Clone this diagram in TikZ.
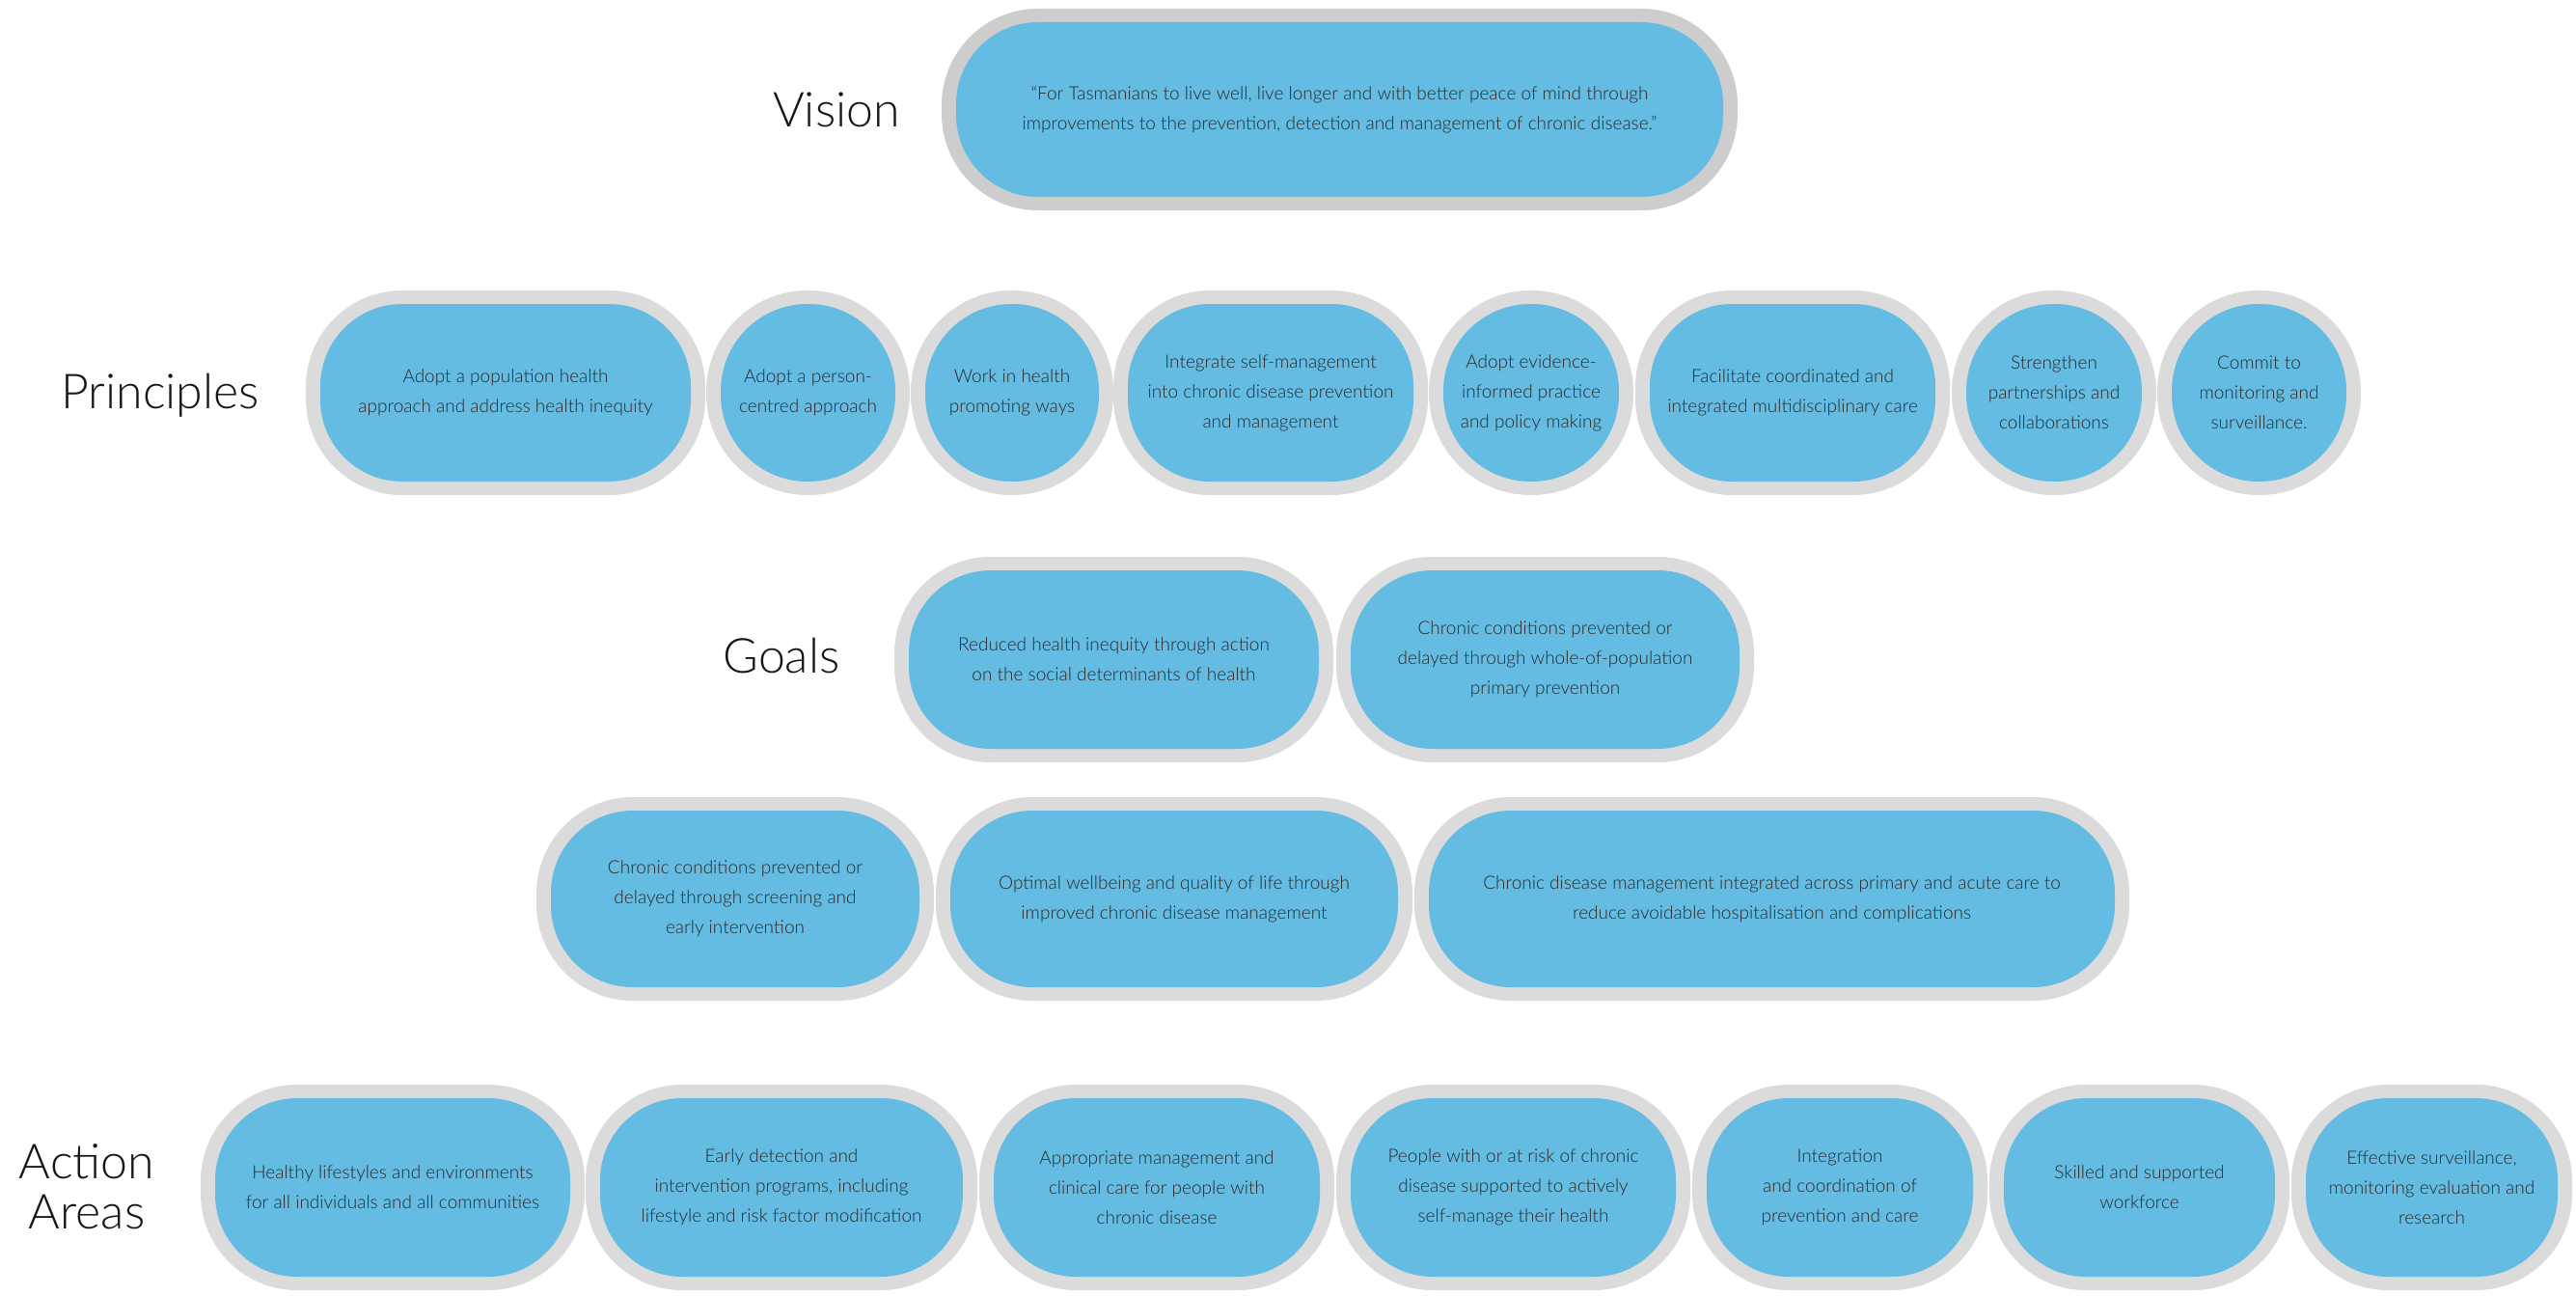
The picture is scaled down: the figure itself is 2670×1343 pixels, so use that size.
\documentclass[tikz,border=0pt]{standalone}
\usepackage{fontspec}
\setmainfont{Lato Light}
\definecolor{coreblue}{RGB}{100,188,226}
\definecolor{ringgray}{RGB}{220,219,219}
\definecolor{ringdark}{RGB}{206,205,205}
\definecolor{txtgray}{RGB}{40,40,40}
\definecolor{headblack}{RGB}{25,22,18}
\tikzset{
  boxtext/.style={font=\fontsize{19}{31}\selectfont, text=txtgray, align=center, inner sep=0pt},
  rowhead/.style={font=\fontsize{50}{52}\selectfont, text=headblack, anchor=base, inner sep=0pt, align=center},
}
% #1 name, #2 ring colour, #3 left, #4 right, #5 top, #6 bottom, #7 corner radius, #8 text
\newcommand\capsule[8]{%
  \pgfmathsetmacro\cpsOuter{#7}%
  \pgfmathsetmacro\cpsInner{#7-15}%
  \fill[#2, rounded corners=\cpsOuter pt] (#3,-#5) rectangle (#4,-#6);
  \fill[coreblue, rounded corners=\cpsInner pt] ({#3+15},{-#5-14}) rectangle ({#4-15},{-#6+14});
  \node[boxtext] (#1) at ({(#3+#4)/2},{-(#5+#6)/2}) {#8};
}
\begin{document}
\begin{tikzpicture}[x=1pt,y=1pt]
\useasboundingbox (0,0) rectangle (2670,-1343);
\fill[white] (0,0) rectangle (2670,-1343);

% row headings
\node[rowhead] (hvision) at (867,-132) {Vision};
\node[rowhead] (hprinc) at (166,-423) {Principles};
\node[rowhead] (hgoals) at (810,-697) {Goals};
\node[rowhead] (haction) at (90,-1221) {Action};
\node[rowhead] (hareas) at (90,-1273) {Areas};

% vision
\capsule{vision}{ringdark}{976}{1801}{9}{218}{100}{“For Tasmanians to live well, live longer and with better peace of mind through\\improvements to the prevention, detection and management of chronic disease.”}

% principles
\capsule{p1}{ringgray}{317}{731}{301}{513}{100}{Adopt a population health\\approach and address health inequity}
\capsule{p2}{ringgray}{732}{943}{301}{513}{105}{Adopt a person-\\centred approach}
\capsule{p3}{ringgray}{944}{1154}{301}{513}{104.5}{Work in health\\promoting ways}
\capsule{p4}{ringgray}{1154}{1480}{301}{513}{100}{Integrate self-management\\into chronic disease prevention\\and management}
\capsule{p5}{ringgray}{1481}{1693}{301}{513}{105.5}{Adopt evidence-\\informed practice\\and policy making}
\capsule{p6}{ringgray}{1695}{2021}{301}{513}{100}{Facilitate coordinated and\\integrated multidisciplinary care}
\capsule{p7}{ringgray}{2023}{2235}{301}{513}{105.5}{Strengthen\\partnerships and\\collaborations}
\capsule{p8}{ringgray}{2236}{2447}{301}{513}{105}{Commit to\\monitoring and\\surveillance.}

% goals
\capsule{g1}{ringgray}{927}{1382}{577}{790}{100}{Reduced health inequity through action\\on the social determinants of health}
\capsule{g2}{ringgray}{1385}{1818}{577}{790}{100}{Chronic conditions prevented or\\delayed through whole-of-population\\primary prevention}
\capsule{g3}{ringgray}{556}{968}{826}{1037}{100}{Chronic conditions prevented or\\delayed through screening and\\early intervention}
\capsule{g4}{ringgray}{970}{1464}{826}{1037}{100}{Optimal wellbeing and quality of life through\\improved chronic disease management}
\capsule{g5}{ringgray}{1466}{2207}{826}{1037}{100}{Chronic disease management integrated across primary and acute care to\\reduce avoidable hospitalisation and complications}

% action areas
\capsule{a1}{ringgray}{208}{606}{1124}{1337}{100}{Healthy lifestyles and environments\\for all individuals and all communities}
\capsule{a2}{ringgray}{607}{1013}{1124}{1337}{100}{Early detection and\\intervention programs, including\\lifestyle and risk factor modification}
\capsule{a3}{ringgray}{1015}{1383}{1124}{1337}{100}{Appropriate management and\\clinical care for people with\\chronic disease}
\capsule{a4}{ringgray}{1385}{1752}{1124}{1337}{100}{People with or at risk of chronic\\disease supported to actively\\self-manage their health}
\capsule{a5}{ringgray}{1754}{2060}{1124}{1337}{100}{Integration\\and coordination of\\prevention and care}
\capsule{a6}{ringgray}{2062}{2373}{1124}{1337}{100}{Skilled and supported\\workforce}
\capsule{a7}{ringgray}{2375}{2666}{1124}{1337}{100}{Effective surveillance,\\monitoring evaluation and\\research}
\end{tikzpicture}
\end{document}
